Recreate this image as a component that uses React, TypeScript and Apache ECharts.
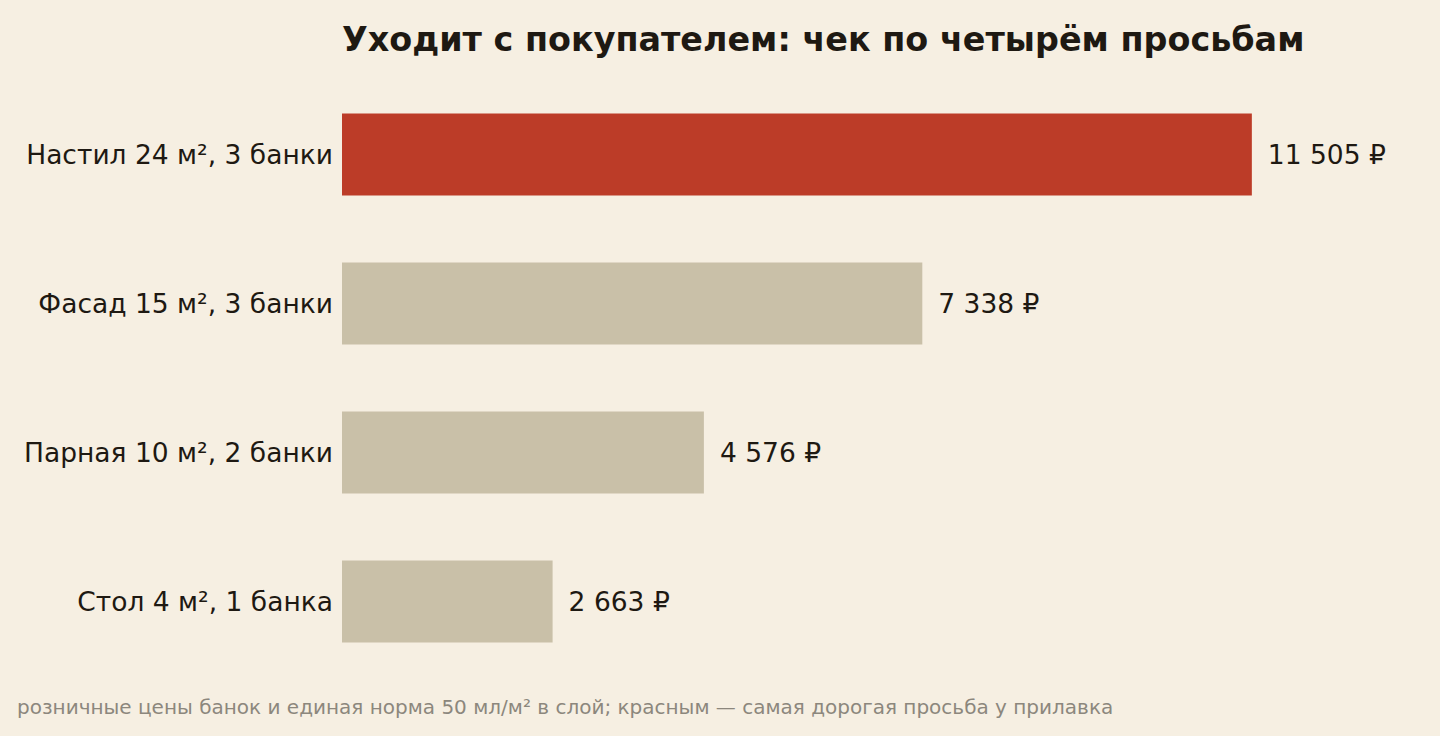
import React, { useEffect, useRef } from "react";
import * as echarts from "echarts";

const categories = [
  "Настил 24 м², 3 банки",
  "Фасад 15 м², 3 банки",
  "Парная 10 м², 2 банки",
  "Стол 4 м², 1 банка",
];
const totals = [11505, 7338, 4576, 2663];
const highlightIndex = 0;

const titleText = "Уходит с покупателем: чек по четырём просьбам";
const noteText =
  "розничные цены банок и единая норма 50 мл/м² в слой; красным — самая дорогая просьба у прилавка";

const FONT = "'DejaVu Sans', sans-serif";

const formatRub = (v: number) =>
  String(v).replace(/\B(?=(\d{3})+(?!\d))/g, " ") + " ₽";

const App: React.FC = () => {
  const chartRef = useRef<HTMLDivElement>(null);

  useEffect(() => {
    if (!chartRef.current) return;
    const chart = echarts.init(chartRef.current, undefined, { renderer: "svg" });

    chart.setOption({
      animation: false,
      backgroundColor: "#F6EFE2",
      textStyle: { fontFamily: FONT },
      title: [
        {
          text: titleText,
          left: 342,
          top: 23,
          padding: 0,
          textStyle: { fontFamily: FONT, fontSize: 33.4, fontWeight: "bold", color: "#1E1912" },
        },
        {
          text: noteText,
          left: 17,
          top: 697,
          padding: 0,
          textStyle: { fontFamily: FONT, fontSize: 20, fontWeight: "normal", color: "#8C877D" },
        },
      ],
      grid: { left: 342, right: 149, top: 80, bottom: 60, containLabel: false },
      xAxis: {
        type: "value",
        min: 0,
        max: 12000,
        show: false,
      },
      yAxis: {
        type: "category",
        inverse: true,
        data: categories,
        axisLine: { show: false },
        axisTick: { show: false },
        axisLabel: { margin: 9, fontSize: 26.5, color: "#1E1912", fontFamily: FONT },
      },
      series: [
        {
          type: "bar",
          barWidth: 82,
          data: totals.map((v, i) => ({
            value: v,
            itemStyle: { color: i === highlightIndex ? "#BC3C28" : "#C9C0A8" },
          })),
          label: {
            show: true,
            position: "right",
            distance: 16,
            fontSize: 26.5,
            color: "#1E1912",
            fontFamily: FONT,
            formatter: (p: any) => formatRub(p.value),
          },
        },
      ],
    });

    return () => chart.dispose();
  }, []);

  return (
    <div
      ref={chartRef}
      style={{ position: "fixed", left: 0, top: 0, width: "1440px", height: "736px" }}
    />
  );
};

export default App;
